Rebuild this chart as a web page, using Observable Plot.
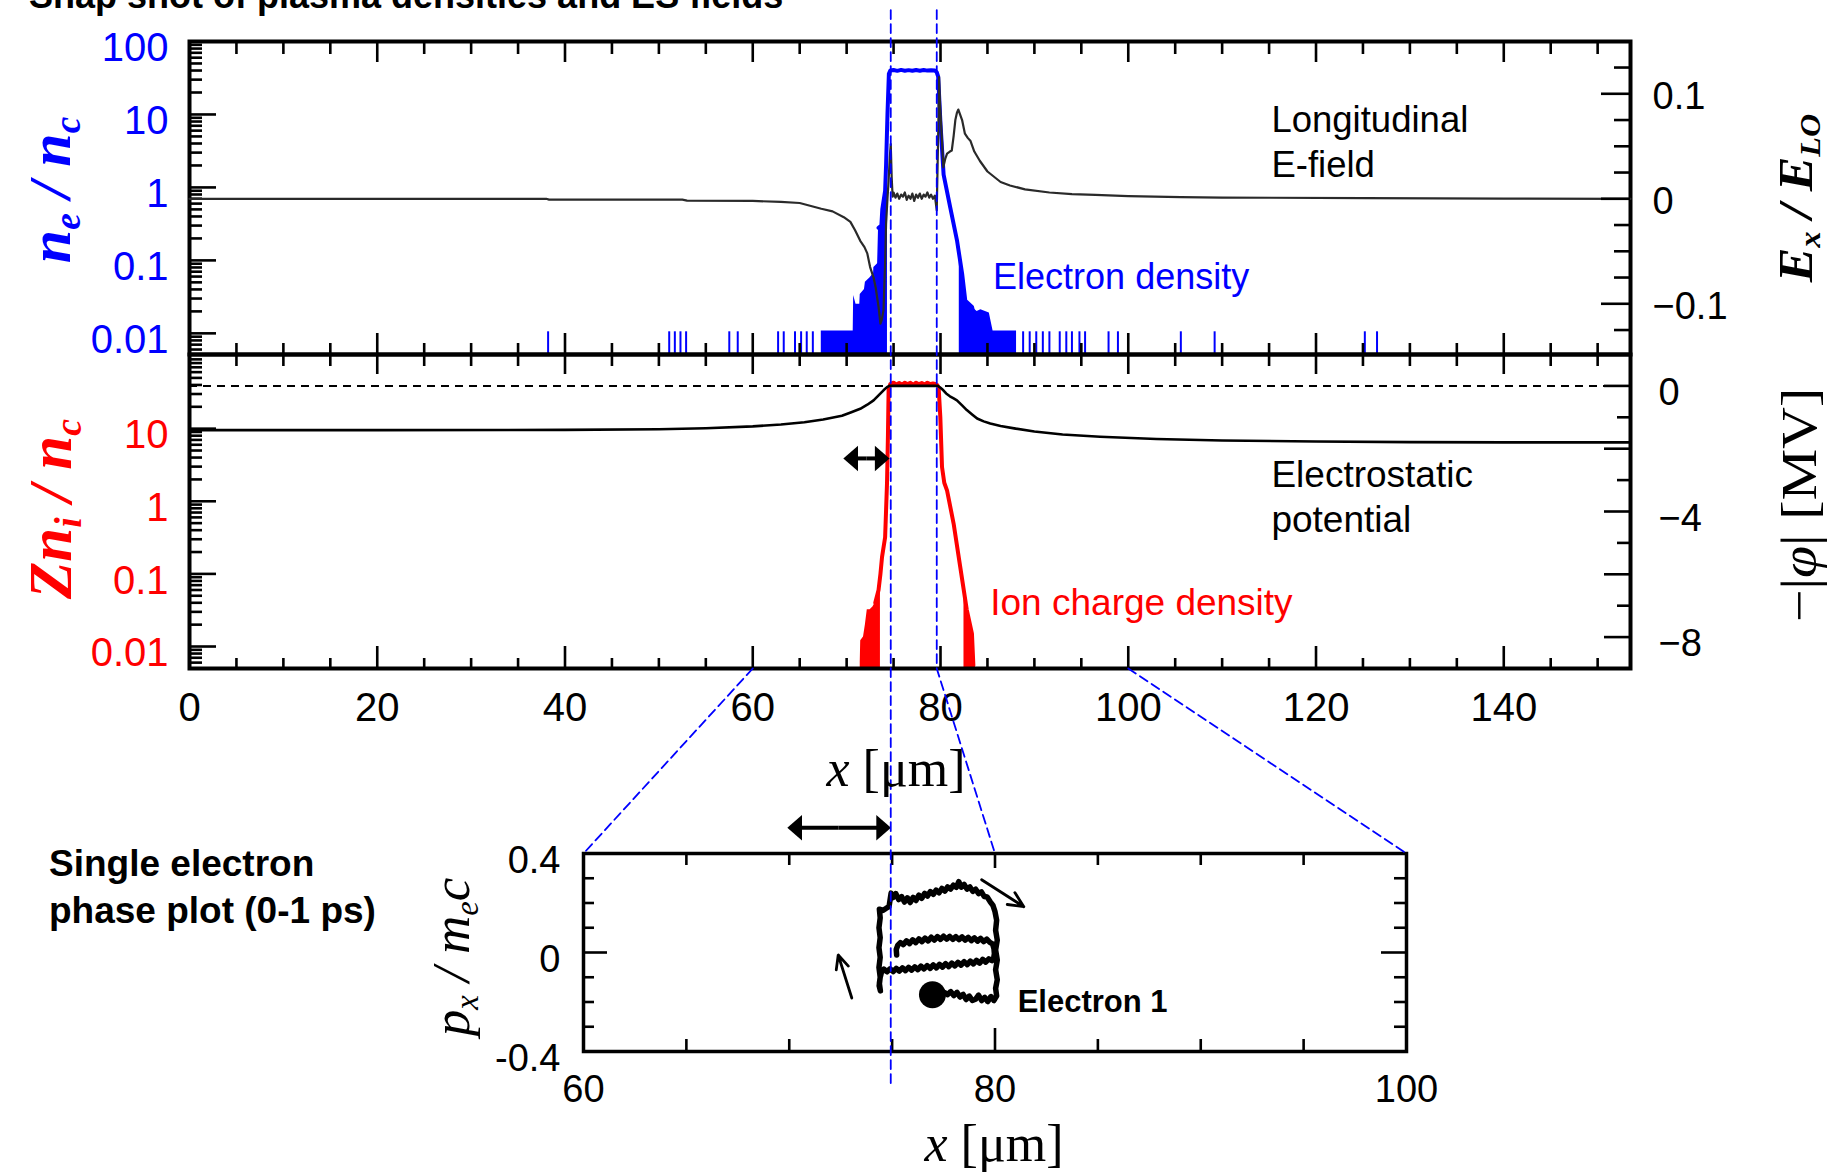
<!DOCTYPE html>
<html><head><meta charset="utf-8">
<script src="https://cdn.jsdelivr.net/npm/d3@7"></script>
<script src="https://cdn.jsdelivr.net/npm/@observablehq/plot@0.6"></script>
<style>
body{margin:0;background:#fff;}
#wrap{position:relative;width:1828px;height:1173px;overflow:hidden;background:#fff;font-family:"Liberation Sans",Arial,sans-serif;}
#wrap svg{position:absolute;left:0;top:0;}
.t{position:absolute;white-space:nowrap;line-height:1;}
.rot{transform:translate(-50%,-50%) rotate(-90deg);}
.ctr{transform:translate(-50%,0);}
.serif{font-family:"Liberation Serif","Times New Roman",serif;}
sub{font-size:0.62em;vertical-align:-0.28em;line-height:0;}
</style></head><body><div id="wrap"></div>
<script>
// ================= DATA =================
const xDomain = [0, 153.5];
const xMajorTicks = [0, 20, 40, 60, 80, 100, 120, 140];
const xTickLabels = ["0", "20", "40", "60", "80", "100", "120", "140"];

// electron density n_e/n_c (top panel, log)
const neTicks = [100, 10, 1, 0.1, 0.01];
const neTickLabels = ["100", "10", "1", "0.1", "0.01"];
const neX   = [73.4, 73.7, 73.8, 74.1, 74.2, 74.35, 74.5, 74.65, 75.0, 75.4, 75.8, 76.2, 76.6, 77.0, 77.4, 77.8, 78.2, 78.6, 79.0, 79.4, 79.6, 79.75, 80.0, 80.33, 81.04, 81.75, 82.3, 82.64, 83.36, 83.9];
const neVal = [0.28, 0.3, 0.5, 0.9, 2.0, 10, 36, 40, 40.6, 39.6, 40.8, 39.8, 40.5, 39.7, 40.7, 39.8, 40.6, 39.9, 40.4, 40.0, 38, 33, 7.3, 1.5, 0.53, 0.19, 0.066, 0.028, 0.023, 0.0105];
const neLeftX   = [67.3, 70.7, 70.75, 71.0, 71.4, 71.45, 71.9, 72.0, 72.5, 72.87, 72.9, 73.3, 73.4, 73.7, 73.8, 74.1, 74.2, 74.35];
const neLeftVal = [0.0108, 0.0108, 0.033, 0.025, 0.025, 0.034, 0.04, 0.05, 0.058, 0.066, 0.08, 0.09, 0.28, 0.3, 0.5, 0.9, 2, 10];
const neRightX   = [82.0, 82.3, 82.64, 83.36, 83.9, 84.3, 85.2, 85.6, 86.5, 88.1];
const neRightVal = [0.1, 0.066, 0.028, 0.023, 0.02, 0.021, 0.019, 0.0108, 0.0108, 0.0108];
const neSpikeX   = [38.2, 51.1, 51.7, 52.3, 52.9, 57.5, 58.4, 62.7, 63.3, 64.5, 65.15, 65.75, 66.4, 88.8, 89.5, 90.2, 90.9, 91.6, 92.7, 93.4, 94.0, 94.8, 95.4, 97.9, 98.9, 105.6, 109.2, 125.2, 126.5];
const neSpikeVal = [0.0105, 0.0105, 0.0105, 0.0105, 0.0105, 0.0105, 0.0105, 0.0105, 0.0105, 0.0105, 0.0105, 0.0105, 0.0105, 0.0105, 0.0105, 0.0105, 0.0105, 0.0105, 0.0105, 0.0105, 0.0105, 0.0105, 0.0105, 0.0105, 0.0105, 0.0105, 0.0105, 0.0105, 0.0105];

// longitudinal E-field E_x/E_L0 (top panel, right axis)
const exTicks = [0.1, 0, -0.1];
const exTickLabels = ["0.1", "0", "\u22120.1"];
const exX   = [0, 38, 38.3, 52.5, 53, 60, 63, 65, 67.3, 68.5, 69.7, 70.4, 70.9, 71.45, 71.9, 72.2, 72.5, 72.87, 73.1, 73.4, 73.6, 73.75, 73.93, 74.1, 74.2, 74.35, 74.47, 74.6, 74.7, 74.8, 74.9, 75.0, 75.2, 75.4, 75.6, 75.8, 76.0, 76.2, 76.4, 76.6, 76.8, 77.0, 77.2, 77.4, 77.6, 77.8, 78.0, 78.2, 78.4, 78.6, 78.8, 79.0, 79.2, 79.4, 79.5, 79.6, 79.75, 79.85, 79.95, 80.16, 80.3, 80.5, 80.7, 81.0, 81.2, 81.4, 81.58, 81.75, 81.9, 82.1, 82.3, 82.6, 82.9, 83.2, 83.6, 84.2, 85.0, 86.4, 87.4, 89, 91.6, 94, 96.5, 100, 105.6, 110, 125.2, 140, 153.5];
const exVal = [0, 0, -0.0008, -0.0008, -0.0017, -0.002, -0.003, -0.004, -0.0095, -0.012, -0.0175, -0.022, -0.03, -0.04, -0.046, -0.052, -0.065, -0.075, -0.085, -0.103, -0.119, -0.115, -0.106, -0.06, -0.024, 0.0, 0.017, 0.04, 0.052, 0.02, 0.002, 0.006, 0.001, 0.005, 0.0, 0.004, 0.002, 0.006, -0.001, 0.003, 0.0, 0.005, -0.002, 0.004, 0.001, 0.005, 0.0, 0.004, 0.002, 0.006, 0.001, 0.004, 0.0, 0.003, -0.004, -0.011, 0.06, 0.116, 0.09, 0.055, 0.03, 0.038, 0.043, 0.045, 0.046, 0.06, 0.075, 0.082, 0.085, 0.08, 0.075, 0.062, 0.058, 0.055, 0.045, 0.036, 0.026, 0.016, 0.0127, 0.009, 0.006, 0.0045, 0.0038, 0.0025, 0.0015, 0.0012, 0.0006, 0.0002, 0.0];

// ion charge density Zn_i/n_c (bottom panel, log)
const niTicks = [10, 1, 0.1, 0.01];
const niTickLabels = ["10", "1", "0.1", "0.01"];
const niX   = [73.05, 73.4, 73.6, 73.77, 74.1, 74.3, 74.4, 74.47, 74.65, 75.0, 75.3, 75.6, 75.9, 76.2, 76.5, 76.8, 77.1, 77.4, 77.7, 78.0, 78.3, 78.6, 78.9, 79.2, 79.5, 79.63, 79.8, 79.98, 80.16, 80.4, 80.7, 81.4, 82.1, 82.8, 83.35, 83.5];
const niVal = [0.04, 0.06, 0.1, 0.17, 0.32, 1.75, 8, 34, 41, 43, 40.5, 42.5, 40.5, 43, 41, 42.8, 40.2, 43, 41, 42.5, 40.5, 42.8, 41, 42, 41, 40, 37, 14.4, 2.96, 1.8, 1.4, 0.49, 0.125, 0.032, 0.015, 0.0055];
const niLeftX   = [71.45, 71.5, 71.8, 72.0, 72.2, 72.5, 72.8, 73.05, 73.4, 73.6];
const niLeftVal = [0.006, 0.012, 0.0135, 0.02, 0.032, 0.032, 0.035, 0.04, 0.06, 0.1];
const niRightX   = [82.5, 82.8, 83.1, 83.35, 83.5];
const niRightVal = [0.05, 0.032, 0.022, 0.015, 0.0055];

// electrostatic potential -|phi| [MV] (bottom panel, right axis)
const phiTicks = [0, -4, -8];
const phiTickLabels = ["0", "\u22124", "\u22128"];
const phiX   = [0, 20, 40, 50, 55, 60, 63, 65.5, 67.5, 69.5, 70.5, 71.45, 72.2, 72.87, 73.4, 73.93, 74.3, 74.55, 79.7, 80.0, 80.3, 80.6, 81.0, 81.4, 81.75, 82.3, 82.8, 83.4, 83.9, 84.6, 85.3, 86.4, 88, 90, 93, 97, 103, 110, 120, 130, 140, 153.5];
const phiVal = [-1.41, -1.41, -1.40, -1.38, -1.35, -1.29, -1.23, -1.16, -1.07, -0.95, -0.84, -0.73, -0.6, -0.46, -0.3, -0.14, -0.04, 0, 0, -0.06, -0.14, -0.24, -0.33, -0.4, -0.46, -0.62, -0.77, -0.92, -1.04, -1.13, -1.2, -1.28, -1.36, -1.45, -1.55, -1.62, -1.69, -1.74, -1.77, -1.79, -1.80, -1.80];

// single electron phase plot (x [um], p_x/m_e c)
const phaseXTicks = [60, 80, 100];
const phaseXLabels = ["60", "80", "100"];
const phaseYTicks = [0.4, 0, -0.4];
const phaseYLabels = ["0.4", "0", "-0.4"];
const traj = [
 [75.22,-0.01],[75.2,0.012],[75.28,0.03],[75.4,0.04],[75.55,0.032],[75.7,0.047],[75.85,0.036],[76.0,0.051],[76.15,0.04],[76.3,0.055],[76.45,0.044],[76.6,0.058],[76.75,0.047],[76.9,0.062],[77.05,0.05],[77.2,0.064],[77.35,0.053],[77.5,0.066],[77.65,0.054],[77.8,0.065],[77.95,0.053],[78.1,0.064],[78.25,0.052],[78.4,0.063],[78.55,0.05],[78.7,0.061],[78.85,0.048],[79.0,0.059],[79.15,0.046],[79.3,0.057],[79.45,0.044],[79.6,0.054],[79.75,0.041],[79.88,0.035],[79.95,0.015],[79.97,-0.005],[79.93,-0.025],[79.85,-0.033],
 [79.7,-0.026],[79.55,-0.039],[79.4,-0.028],[79.25,-0.043],[79.1,-0.032],[78.95,-0.046],[78.8,-0.035],[78.65,-0.049],[78.5,-0.037],[78.35,-0.051],[78.2,-0.04],[78.05,-0.054],[77.9,-0.043],[77.75,-0.057],[77.6,-0.045],[77.45,-0.059],[77.3,-0.048],[77.15,-0.062],[77.0,-0.05],[76.85,-0.064],[76.7,-0.053],[76.55,-0.066],[76.4,-0.055],[76.25,-0.069],[76.1,-0.058],[75.95,-0.071],[75.8,-0.06],[75.65,-0.073],[75.5,-0.062],[75.35,-0.075],[75.2,-0.064],[75.05,-0.077],[74.9,-0.066],[74.75,-0.078],[74.6,-0.067],[74.48,-0.08],
 [74.42,-0.1],[74.38,-0.125],[74.43,-0.155],[74.37,-0.135],[74.42,-0.1],[74.36,-0.06],[74.42,-0.02],[74.36,0.02],[74.42,0.06],[74.36,0.1],[74.42,0.14],[74.38,0.175],
 [74.55,0.17],[74.7,0.178],[74.85,0.185],[74.95,0.24],[75.05,0.222],[75.18,0.238],[75.32,0.214],[75.46,0.226],[75.6,0.204],[75.74,0.221],[75.88,0.202],[76.02,0.223],[76.16,0.21],[76.3,0.232],[76.44,0.219],[76.58,0.239],[76.72,0.228],[76.86,0.246],[77.0,0.235],[77.14,0.252],[77.28,0.241],[77.42,0.259],[77.56,0.248],[77.7,0.265],[77.84,0.256],[77.98,0.272],[78.12,0.263],[78.24,0.286],[78.36,0.264],[78.5,0.275],[78.64,0.256],[78.78,0.265],[78.92,0.247],[79.06,0.256],[79.2,0.238],[79.34,0.245],[79.48,0.226],[79.62,0.224],[79.76,0.206],[79.9,0.19],[80.0,0.165],
 [80.08,0.13],[80.03,0.09],[80.11,0.05],[80.03,0.01],[80.11,-0.03],[80.03,-0.07],[80.11,-0.11],[80.03,-0.145],[80.08,-0.175],
 [79.95,-0.194],[79.8,-0.178],[79.65,-0.198],[79.5,-0.181],[79.35,-0.194],[79.2,-0.172],[79.05,-0.189],[78.9,-0.194],[78.75,-0.176],[78.6,-0.19],[78.45,-0.169],[78.3,-0.18],[78.15,-0.161],[78.0,-0.174],[77.85,-0.158],[77.7,-0.17],[77.55,-0.162]
];
const electronDot = [{x: 76.96, p: -0.171}];
const motionArrows = [
  {x1: 79.35, y1: 0.294, x2: 81.4, y2: 0.185},
  {x1: 73.04, y1: -0.184, x2: 72.38, y2: -0.01}
];
const guideX = [74.7, 79.6];
const zoomEdges = [60, 100];

// ================= HELPERS =================
const W = 1828, H = 1173;
const SANS = "'Liberation Sans', Arial, sans-serif";
const STYLE = "background:transparent;overflow:visible;font-family:'Liberation Sans',Arial,sans-serif;";
const zip = (xs, ys) => xs.map((x, i) => ({x, y: ys[i]}));
function logMinor(lo, hi) {
  const out = [];
  for (let e = -3; e <= 2; e++) for (let k = 2; k <= 9; k++) { const v = k * Math.pow(10, e); if (v > lo && v < hi) out.push(v); }
  return out;
}
const xMinor = d3.range(5, 155, 5).filter(v => v % 20 !== 0);
const xMajorInner = xMajorTicks.filter(v => v > 0);
const tick = {stroke: "black", strokeWidth: 2.6};
function xTicksTop(frameH, vals, len) { return Plot.tickX(vals, {x: d => d, insetBottom: frameH - len, ...tick}); }
function xTicksBot(frameH, vals, len) { return Plot.tickX(vals, {x: d => d, insetTop: frameH - len, ...tick}); }
function yTicksLeft(frameW, vals, len) { return Plot.tickY(vals, {y: d => d, insetRight: frameW - len, ...tick}); }
function yTicksRight(frameW, vals, len) { return Plot.tickY(vals, {y: d => d, insetLeft: frameW - len, ...tick}); }
function fillMarkers(svg) {
  svg.querySelectorAll("marker").forEach(m => {
    const c = m.getAttribute("stroke") || "black";
    m.setAttribute("fill", c); m.setAttribute("stroke", "none");
    const p = m.querySelector("path");
    if (p) { p.setAttribute("d", "M-3,-4.8L2.5,0L-3,4.8Z"); p.setAttribute("fill", c); p.setAttribute("stroke", "none"); }
  });
}

// frames (pixel layout)
const L = 189, R = 1630, T1 = 41, MID = 354, B2 = 668;
const frameW = R - L, topH = MID - T1, botH = B2 - MID;
const neFloor = 0.00513, niFloor = 0.00498;
const blue = "#0000ff", red = "#ff0000";

// ================= TOP PANEL: electron density =================
const plotA = Plot.plot({
  width: W, height: H, marginLeft: L, marginRight: W - R, marginTop: T1, marginBottom: H - MID, style: STYLE,
  x: {domain: xDomain, axis: null},
  y: {type: "log", domain: [neFloor, 100], axis: null},
  marks: [
    Plot.ruleX(zip(neSpikeX, neSpikeVal), {x: "x", y1: neFloor, y2: "y", stroke: blue, strokeWidth: 2}),
    Plot.areaY(zip(neLeftX, neLeftVal), {x: "x", y1: neFloor, y2: "y", fill: blue}),
    Plot.areaY(zip(neRightX, neRightVal), {x: "x", y1: neFloor, y2: "y", fill: blue}),
    Plot.line(zip(neX, neVal), {x: "x", y: "y", stroke: blue, strokeWidth: 4}),
    Plot.text(["Electron density"], {x: 85.6, y: 0.0586, text: d => d, textAnchor: "start", lineAnchor: "middle", fontSize: 36, fill: blue, fontFamily: SANS}),
    xTicksTop(topH, xMinor, 13), xTicksTop(topH, xMajorInner, 21),
    xTicksBot(topH, xMinor, 11), xTicksBot(topH, xMajorInner, 21),
    yTicksLeft(frameW, logMinor(neFloor, 100), 13), yTicksLeft(frameW, neTicks, 27),
    Plot.text(neTicks, {y: d => d, text: (d, i) => neTickLabels[i], frameAnchor: "left", dx: -21, dy: 7, textAnchor: "end", lineAnchor: "middle", fontSize: 40, fill: blue, fontFamily: SANS}),
    Plot.frame({stroke: "black", strokeWidth: 4})
  ]
});

// ================= TOP PANEL: E-field =================
const plotB = Plot.plot({
  width: W, height: H, marginLeft: L, marginRight: W - R, marginTop: T1, marginBottom: H - MID, style: STYLE,
  x: {domain: xDomain, axis: null},
  y: {domain: [-0.1483, 0.1498], axis: null},
  marks: [
    Plot.line(zip(exX, exVal), {x: "x", y: "y", stroke: "#2a2a2a", strokeWidth: 2.2}),
    yTicksRight(frameW, [0.125, 0.075, 0.05, 0.025, -0.025, -0.05, -0.075, -0.125], 16),
    yTicksRight(frameW, exTicks, 29),
    Plot.text(exTicks, {y: d => d, text: (d, i) => exTickLabels[i], frameAnchor: "right", dx: 22, dy: 3, textAnchor: "start", lineAnchor: "middle", fontSize: 38, fill: "black", fontFamily: SANS}),
    Plot.text(["Longitudinal", "E-field"], {x: 115.25, y: (d, i) => [0.0746, 0.0317][i], text: d => d, textAnchor: "start", lineAnchor: "middle", fontSize: 36.5, fill: "black", fontFamily: SANS})
  ]
});

// ================= BOTTOM PANEL: ion charge density =================
const plotC = Plot.plot({
  width: W, height: H, marginLeft: L, marginRight: W - R, marginTop: MID, marginBottom: H - B2, style: STYLE,
  x: {domain: xDomain, axis: null},
  y: {type: "log", domain: [niFloor, 105], axis: null},
  marks: [
    Plot.areaY(zip(niLeftX, niLeftVal), {x: "x", y1: niFloor, y2: "y", fill: red}),
    Plot.areaY(zip(niRightX, niRightVal), {x: "x", y1: niFloor, y2: "y", fill: red}),
    Plot.line(zip(niX, niVal), {x: "x", y: "y", stroke: red, strokeWidth: 4}),
    Plot.text(["Ion charge density"], {x: 85.3, y: 0.0395, text: d => d, textAnchor: "start", lineAnchor: "middle", fontSize: 37, fill: red, fontFamily: SANS}),
    xTicksTop(botH, xMinor, 12), xTicksTop(botH, xMajorInner, 20),
    xTicksBot(botH, xMinor, 10), xTicksBot(botH, xMajorInner, 22),
    yTicksLeft(frameW, logMinor(niFloor, 105), 13), yTicksLeft(frameW, niTicks, 27),
    Plot.text(niTicks, {y: d => d, text: (d, i) => niTickLabels[i], frameAnchor: "left", dx: -21, dy: 7, textAnchor: "end", lineAnchor: "middle", fontSize: 40, fill: red, fontFamily: SANS}),
    Plot.text(xMajorTicks, {x: d => d, text: (d, i) => xTickLabels[i], frameAnchor: "bottom", dy: 40, textAnchor: "middle", lineAnchor: "middle", fontSize: 40, fill: "black", fontFamily: SANS}),
    Plot.frame({stroke: "black", strokeWidth: 4})
  ]
});

// ================= BOTTOM PANEL: potential =================
const dblArrowBottom = [{x1: 72.1, x2: 70.36, y: -2.31}, {x1: 72.1, x2: 73.86, y: -2.31}];
const plotD = Plot.plot({
  width: W, height: H, marginLeft: L, marginRight: W - R, marginTop: MID, marginBottom: H - B2, style: STYLE,
  x: {domain: xDomain, axis: null},
  y: {domain: [-9, 1], axis: null},
  marks: [
    Plot.ruleY([0], {stroke: "black", strokeWidth: 2, strokeDasharray: "8,6"}),
    Plot.line(zip(phiX, phiVal), {x: "x", y: "y", stroke: "black", strokeWidth: 2.6}),
    Plot.link(dblArrowBottom, {x1: "x1", x2: "x2", y1: "y", y2: "y", stroke: "black", strokeWidth: 4, markerEnd: "arrow"}),
    yTicksRight(frameW, [-1, -3, -5, -7], 13),
    yTicksRight(frameW, [0, -2, -4, -6, -8], 26),
    Plot.text(phiTicks, {y: d => d, text: (d, i) => phiTickLabels[i], frameAnchor: "right", dx: 28, dy: 7, textAnchor: "start", lineAnchor: "middle", fontSize: 38, fill: "black", fontFamily: SANS}),
    Plot.text(["Electrostatic", "potential"], {x: 115.25, y: (d, i) => [-2.84, -4.28][i], text: d => d, textAnchor: "start", lineAnchor: "middle", fontSize: 37, fill: "black", fontFamily: SANS})
  ]
});
fillMarkers(plotD);

// ================= PHASE PLOT =================
const PL = 583, PR = 1406, PT = 853, PB = 1051;
const pW = PR - PL, pH = PB - PT;
const dblArrowPhase = [{x1: 72.4, x2: 70.23, y: 0.504}, {x1: 72.4, x2: 74.62, y: 0.504}];
const plotE = Plot.plot({
  width: W, height: H, marginLeft: PL, marginRight: W - PR, marginTop: PT, marginBottom: H - PB, style: STYLE,
  x: {domain: zoomEdges, axis: null},
  y: {domain: [-0.4, 0.4], axis: null},
  marks: [
    Plot.line(traj, {x: d => d[0], y: d => d[1], stroke: "black", strokeWidth: 5.5}),
    Plot.dot(electronDot, {x: "x", y: "p", r: 13.5, fill: "black"}),
    Plot.arrow(motionArrows, {x1: "x1", y1: "y1", x2: "x2", y2: "y2", stroke: "black", strokeWidth: 2.8, headLength: 18, headAngle: 50}),
    Plot.link(dblArrowPhase, {x1: "x1", x2: "x2", y1: "y", y2: "y", stroke: "black", strokeWidth: 4, markerEnd: "arrow"}),
    Plot.text(["Electron 1"], {x: 81.1, y: -0.199, text: d => d, textAnchor: "start", lineAnchor: "middle", fontSize: 31, fontWeight: "bold", fill: "black", fontFamily: SANS}),
    xTicksTop(pH, [65, 70, 75, 85, 90, 95], 12), xTicksTop(pH, [80], 15),
    xTicksBot(pH, [65, 70, 75, 85, 90, 95], 12), xTicksBot(pH, [80], 23),
    yTicksLeft(pW, [0.3, 0.2, 0.1, -0.1, -0.2, -0.3], 11), yTicksLeft(pW, [0], 24),
    yTicksRight(pW, [0.3, 0.2, 0.1, -0.1, -0.2, -0.3], 12), yTicksRight(pW, [0], 25),
    Plot.text(phaseYTicks, {y: d => d, text: (d, i) => phaseYLabels[i], frameAnchor: "left", dx: -23, dy: 7, textAnchor: "end", lineAnchor: "middle", fontSize: 38, fill: "black", fontFamily: SANS}),
    Plot.text(phaseXTicks, {x: d => d, text: (d, i) => phaseXLabels[i], frameAnchor: "bottom", dy: 38, textAnchor: "middle", lineAnchor: "middle", fontSize: 38, fill: "black", fontFamily: SANS}),
    Plot.frame({stroke: "black", strokeWidth: 3.5})
  ]
});
fillMarkers(plotE);

// ================= GUIDE LINES (through the scales above) =================
const sxA = plotA.scale("x"), syA = plotA.scale("y"), syD = plotD.scale("y");
const sxE = plotE.scale("x"), syE = plotE.scale("y");
const fx = d3.scaleLinear(sxA.domain, sxA.range);
const fyA = d3.scaleLog(syA.domain, syA.range);
const fyD = d3.scaleLinear(syD.domain, syD.range);
const fxE = d3.scaleLinear(sxE.domain, sxE.range);
const fyE = d3.scaleLinear(syE.domain, syE.range);
const guides = [
  [[fx(guideX[0]), fyA(270)], [fx(guideX[0]), fyE(-0.53)]],
  [[fx(guideX[1]), fyA(270)], [fx(guideX[1]), fyD(-9)], [fxE(80), fyE(0.4)]],
  [[fx(zoomEdges[0]), fyD(-9)], [fxE(zoomEdges[0]), fyE(0.4)]],
  [[fx(zoomEdges[1]), fyD(-9)], [fxE(zoomEdges[1]), fyE(0.4)]]
];
const guideRows = guides.flatMap((pts, z) => pts.map(([x, y]) => ({x, y, z})));
const plotF = Plot.plot({
  width: W, height: H, margin: 0, style: STYLE,
  x: {domain: [0, W], range: [0, W], axis: null},
  y: {domain: [0, H], range: [0, H], axis: null},
  marks: [
    Plot.line(guideRows, {x: "x", y: "y", z: "z", stroke: blue, strokeWidth: 1.8, strokeDasharray: "9,5"})
  ]
});

const wrap = document.getElementById("wrap");
[plotA, plotB, plotC, plotD, plotE, plotF].forEach(s => wrap.appendChild(s));

// ================= TEXT =================
const html = `
<div class="t" style="left:29px;top:-22px;font-size:36px;font-weight:bold;">Snap shot of plasma densities and ES fields</div>
<div class="t rot serif" style="left:50px;top:190px;font-size:60px;font-weight:bold;font-style:italic;color:${blue};">n<sub>e</sub> / n<sub>c</sub></div>
<div class="t rot serif" style="left:50px;top:509px;font-size:61px;font-weight:bold;font-style:italic;color:${red};">Zn<sub>i</sub> / n<sub>c</sub></div>
<div class="t serif" style="left:1796px;top:198px;font-size:48px;font-weight:bold;font-style:italic;transform:translate(-50%,-50%) rotate(-90deg) scaleX(1.08);">E<sub>x</sub> / E<sub>LO</sub></div>
<div class="t serif" style="left:1799px;top:505px;font-size:50px;transform:translate(-50%,-50%) rotate(-90deg) scaleX(1.16);">\u2212|<i>\u03c6</i>| [MV]</div>
<div class="t ctr serif" style="left:896px;top:743px;font-size:52px;"><i>x</i> [\u03bcm]</div>
<div class="t ctr serif" style="left:994px;top:1118px;font-size:52px;"><i>x</i> [\u03bcm]</div>
<div class="t rot serif" style="left:451px;top:957px;font-size:53px;font-style:italic;">p<sub>x</sub> / m<sub>e</sub>c</div>
<div class="t" style="left:49px;top:845px;font-size:37px;font-weight:bold;">Single electron</div>
<div class="t" style="left:49px;top:892px;font-size:37px;font-weight:bold;">phase plot (0-1 ps)</div>
`;
wrap.insertAdjacentHTML("beforeend", html);
</script></body></html>
